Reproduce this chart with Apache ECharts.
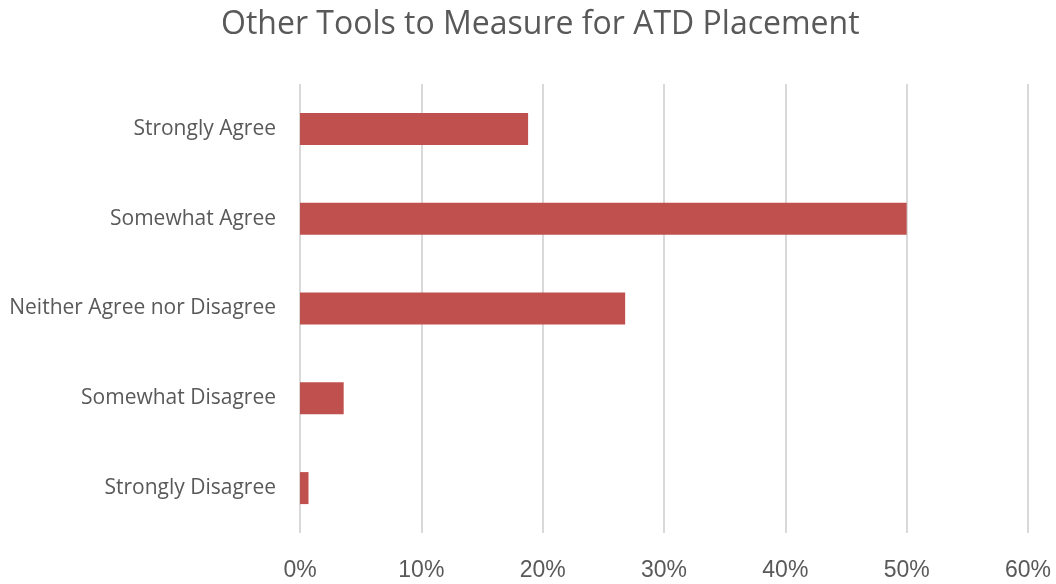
<!DOCTYPE html>
<html>
<head>
<meta charset="utf-8">
<script src="https://cdn.jsdelivr.net/npm/echarts@6/dist/echarts.min.js"></script>
<style>
  html, body { margin: 0; padding: 0; background: #fff; }
  #chart { width: 1056px; height: 584px; }
</style>
</head>
<body>
<div id="chart"></div>
<script>
const categories = ['Strongly Disagree', 'Somewhat Disagree', 'Neither Agree nor Disagree', 'Somewhat Agree', 'Strongly Agree']
const shares = [0.7, 3.6, 26.8, 50.0, 18.8]
const tickValues = [0, 10, 20, 30, 40, 50, 60]

const chart = echarts.init(document.getElementById('chart'))

chart.setOption({
  animation: false,
  title: {
    text: 'Other Tools to Measure for ATD Placement',
    left: 216,
    top: 4,
    textStyle: {
      fontFamily: 'Open Sans',
      fontSize: 32,
      fontWeight: 'normal',
      color: '#595959',
    },
  },
  grid: { left: 300, right: 28, top: 84, bottom: 51 },
  xAxis: {
    type: 'value',
    min: tickValues[0],
    max: tickValues[tickValues.length - 1],
    interval: 10,
    axisLine: { show: false },
    axisTick: { show: false },
    axisLabel: {
      margin: 26,
      fontFamily: 'Liberation Sans',
      fontSize: 23,
      color: '#595959',
      formatter: (v) => v + '%',
    },
    splitLine: { lineStyle: { color: '#d9d9d9', width: 2 } },
  },
  yAxis: {
    type: 'category',
    data: categories,
    axisLine: { show: false },
    axisTick: { show: false },
    axisLabel: {
      margin: 24,
      fontFamily: 'Open Sans',
      fontSize: 21,
      color: '#595959',
    },
  },
  series: [
    {
      type: 'bar',
      data: shares,
      barWidth: 32,
      itemStyle: { color: '#c0504d' },
    },
  ],
})
</script>
</body>
</html>
